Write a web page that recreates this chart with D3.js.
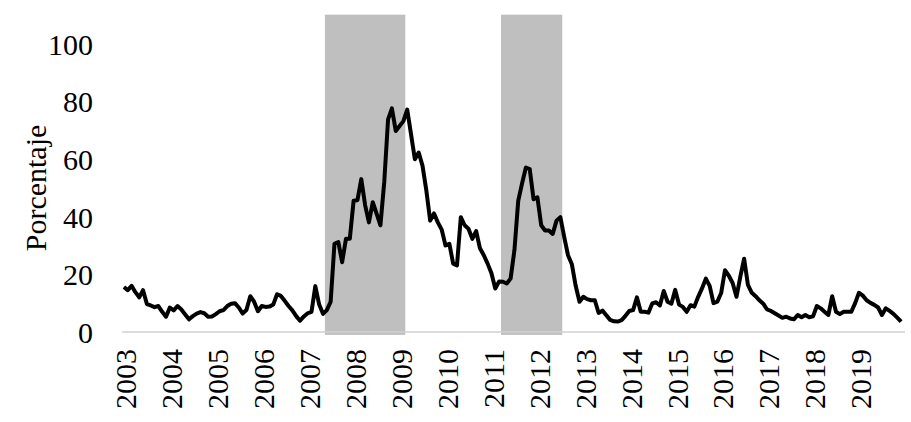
<!DOCTYPE html>
<html><head><meta charset="utf-8">
<script src="https://cdn.jsdelivr.net/npm/d3@7"></script>
<style>
body{margin:0;background:#fff;}
svg text{font-family:"Liberation Serif","Times New Roman",serif;fill:#000;}
</style></head>
<body><svg id="c" width="911" height="422"></svg>
<script>
const years = ["2003","2004","2005","2006","2007","2008","2009","2010","2011","2012","2013","2014","2015","2016","2017","2018","2019"];
const yTicks = [0,20,40,60,80,100];
const values = [
15.6,14.5,16,13.8,12,14.5,9.7,9.2,8.6,9,7,5.3,
8.5,7.5,9,7.8,6.1,4.4,5.5,6.4,6.9,6.5,5.3,5.4,
6.2,7.2,7.6,9,9.8,10,8.5,6.4,7.6,12.4,10.5,7.2,
9,8.7,8.8,9.5,13.1,12.5,10.8,9,7.5,5.5,3.9,5.4,
6.5,7,15.9,9.5,6.3,7.6,10.5,30.6,31.2,24.2,32.3,32.3,
45.5,45.7,53,44,38,45,41,37,52,73.7,77.5,69.7,
71.4,73.1,77.1,68.5,59.9,62.2,57.6,49,38.6,41.1,38,35.5,
30,30.6,23.7,23.1,39.8,37,35.8,32.3,35,29,26.6,23.7,
20.4,15.1,17.5,17.4,16.8,18.5,28.3,45.5,51.5,57,56.5,46,
46.7,37,35.2,35.2,34,38.6,39.8,33,26.6,23.5,16,10.5,
12.2,11.4,11,11,6.6,7.4,5.8,4.2,3.7,3.6,4.1,5.6,
7.3,7.6,12,7,7,6.7,9.9,10.3,9.2,14.2,10.5,9.8,
14.6,9.5,8.7,7,9.3,8.8,12.2,15.1,18.5,16,10,10.5,
13.5,21.4,19.5,17,12.2,19.1,25.4,16.3,13.6,12.4,11,9.8,
7.8,7.3,6.5,5.7,4.9,5.3,4.7,4.4,5.9,5.1,5.9,5.1,
5.4,9,8.2,7,5.9,12.4,7,6.2,7,7,7,10,
13.6,12.6,11,10.1,9.4,8.5,5.9,8.2,7.3,6.3,5,3.6
];
const shadeStart = ["2007-06","2011-04"];
const shadeEnd = ["2009-02","2012-07"];
const shadeTop = [110,110];
const shadeBottom = -1;

const months = [];
years.forEach(y => { for (let m = 1; m <= 12; m++) months.push(y + "-" + String(m).padStart(2,"0")); });

const svg = d3.select("#c");
const x = d3.scaleBand().domain(months).range([122, 903]).padding(0);
const y = d3.scaleLinear().domain([0,100]).range([332, 43.5]);

// shading
svg.append("g").selectAll("rect").data(shadeStart).join("rect")
  .attr("x", d => x(d))
  .attr("width", (d,i) => x(shadeEnd[i]) + x.bandwidth() - x(d))
  .attr("y", (d,i) => y(shadeTop[i]))
  .attr("height", (d,i) => y(shadeBottom) - y(shadeTop[i]))
  .attr("fill", "#bfbfbf");

// zero baseline
svg.append("line").attr("x1", 122).attr("x2", 905).attr("y1", y(0)).attr("y2", y(0))
  .attr("stroke", "#d0d0d0").attr("stroke-width", 1.5);

// y axis labels
const ya = svg.append("g").attr("transform", "translate(93,0)")
  .call(d3.axisLeft(y).tickValues(yTicks).tickSize(0).tickPadding(0));
ya.select(".domain").remove();
ya.selectAll("text").style("font-size", "30px").attr("dy", "0.35em");

// x axis labels
const xa = svg.append("g").attr("transform", "translate(0,0)")
  .call(d3.axisBottom(x).tickValues(years.map(yr => yr + "-01")).tickSize(0).tickFormat(d => d.slice(0,4)));
xa.select(".domain").remove();
xa.selectAll(".tick").attr("transform", d => `translate(${x(d) + x.bandwidth()/2 + 1.8},349)`);
xa.selectAll("text").style("font-size", "30px")
  .attr("transform", "rotate(-90)").attr("text-anchor", "end")
  .attr("x", 0).attr("y", 0).attr("dy", "0.35em");

// axis title
svg.append("text").attr("transform", "translate(35,188) rotate(-90)")
  .attr("text-anchor", "middle").attr("dy", "0.35em").style("font-size", "30px").text("Porcentaje");

// line
svg.append("path").datum(values)
  .attr("fill", "none").attr("stroke", "#000").attr("stroke-width", 4).attr("stroke-linejoin", "round")
  .attr("d", d3.line().x((d,i) => x(months[i]) + x.bandwidth()/2).y(d => y(d)));
</script></body></html>
